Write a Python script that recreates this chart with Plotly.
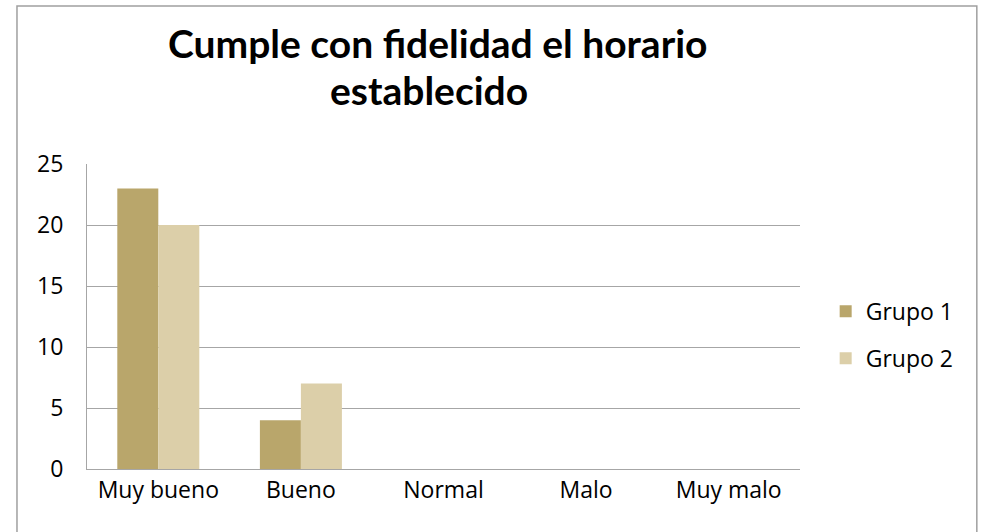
import plotly.graph_objects as go

# datos
categorias = ["Muy bueno", "Bueno", "Normal", "Malo", "Muy malo"]
grupo_1 = [23, 4, 0, 0, 0]
grupo_2 = [20, 7, 0, 0, 0]
titulo = ["Cumple con fidelidad el horario", "establecido"]

COLOR_G1 = "#B9A66B"
COLOR_G2 = "#DCCFA9"
GRID = "#A6A6A6"
FONT = "Open Sans"

fig = go.Figure()
fig.add_trace(go.Bar(x=categorias, y=grupo_1, name="Grupo 1",
                     marker=dict(color=COLOR_G1, line=dict(width=0)),
                     legendgroup="g1"))
fig.add_trace(go.Bar(x=categorias, y=grupo_2, name="Grupo 2",
                     marker=dict(color=COLOR_G2, line=dict(width=0)),
                     legendgroup="g2"))

# borde exterior del gráfico
fig.add_shape(type="rect", xref="paper", yref="paper",
              x0=-0.0982, x1=1.248, y0=-0.25, y1=1.518,
              line=dict(color="#A0A0A0", width=1.5), layer="below")

# título, una anotación por línea
for texto, xp, yp in zip(titulo, [0.492, 0.480], [1.397, 1.243]):
    fig.add_annotation(text=f"<b>{texto}</b>", xref="paper", yref="paper",
                       x=xp, y=yp, xanchor="center", yanchor="middle",
                       showarrow=False,
                       font=dict(family="Lato", size=39, color="black"))

fig.update_layout(
    width=984, height=532,
    margin=dict(l=87, r=184, t=164, b=63),
    paper_bgcolor="white", plot_bgcolor="white",
    barmode="group", bargap=0.425, bargroupgap=0,
    font=dict(family=FONT, size=23, color="black"),
    xaxis=dict(showgrid=False, showline=True, linecolor=GRID, linewidth=1,
               ticks="", tickfont=dict(size=23)),
    yaxis=dict(range=[0, 25], dtick=5, showgrid=True, gridcolor=GRID,
               gridwidth=1, showline=True, linecolor=GRID, linewidth=1,
               zeroline=False, ticks="", ticklen=0, ticklabelstandoff=18,
               tickfont=dict(size=23)),
    legend=dict(x=1.036, y=0.44, xanchor="left", yanchor="middle",
                font=dict(size=23), tracegroupgap=14, traceorder="grouped",
                itemwidth=30),
)

# sin margen de página, la figura ocupa toda la ventana
fig.write_html("out.html", config={"displayModeBar": False},
               post_script="document.body.style.margin='0';")
